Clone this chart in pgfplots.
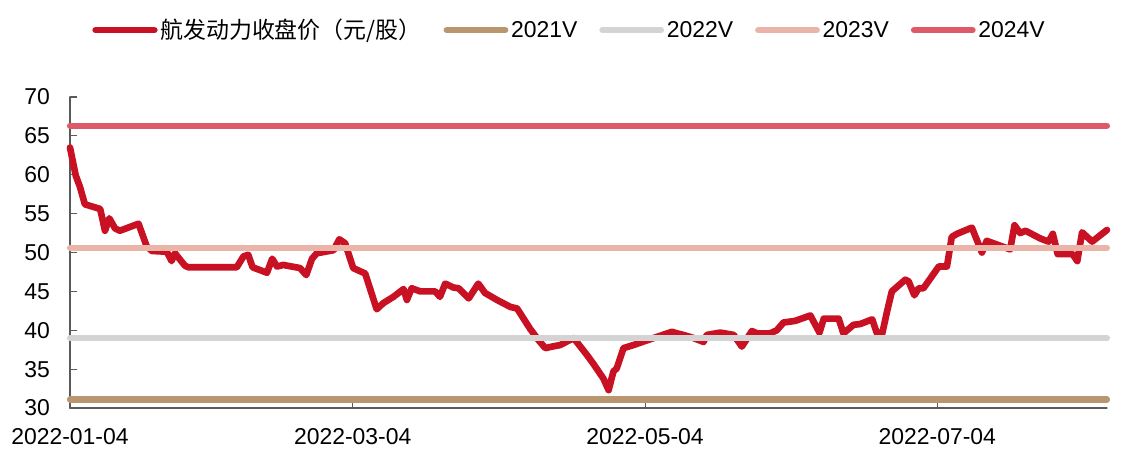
\documentclass[border=0pt]{standalone}
\usepackage{pgfplots}
\pgfplotsset{compat=1.18}
\usepackage{fontspec}
\setmainfont{Liberation Sans}
\newfontfamily\cjk{Noto Sans CJK SC}
\definecolor{mainred}{RGB}{200,18,36}
\definecolor{vtan}{RGB}{185,150,110}
\definecolor{vgray}{RGB}{212,212,212}
\definecolor{vpink}{RGB}{235,180,168}
\definecolor{vrose}{RGB}{221,90,105}
\definecolor{axgray}{RGB}{90,90,90}
\pgfplotstableread{
d y
0 63.5
1.2 59.9
2.1 58.4
3.1 56.2
6.3 55.6
7.3 52.8
8.2 54.4
9.4 53.1
10.4 52.8
14.3 53.7
16 50.8
17.1 50.2
20.2 50.1
21.2 48.9
21.9 49.9
24 48.3
24.7 48.1
34.8 48.1
36.2 49.5
37.2 49.7
38.1 48.1
41.1 47.4
42.2 49.2
43.2 48.2
44.5 48.4
48 48.0
49.3 47.1
50.5 49.2
51.5 49.9
55 50.3
56.2 51.7
57.4 51.2
59.1 48.0
61.6 47.3
64 42.7
65.4 43.5
67.5 44.3
69.6 45.3
70.3 43.9
71.3 45.4
73.1 45.0
76.2 45.0
77.2 44.3
78.3 46.0
80 45.5
81.1 45.4
83.2 44.1
85.2 46.0
86.6 44.8
89.1 43.9
91.9 43.0
93.3 42.8
96 40.2
97.8 38.7
99.2 37.7
100.6 37.9
102.3 38.1
105.1 39.0
106.5 37.9
107.9 36.8
109.2 35.7
111.3 33.8
112.4 32.3
113.4 34.7
114.1 35.1
115.5 37.7
117.6 38.1
121.8 39.0
125.6 39.8
126.7 39.6
128 39.4
130.1 39.0
132.2 38.5
132.9 39.4
135.7 39.7
138.5 39.4
140.2 37.9
142.3 39.9
143.4 39.6
146.1 39.6
147.5 40.0
148.9 41.0
151.3 41.2
154.5 41.9
156.4 39.7
157.3 41.5
160.4 41.5
161.4 39.6
163.5 40.7
164.9 40.8
167.4 41.4
168.4 39.6
169.5 39.6
170.5 42.4
171.5 45.0
174.3 46.5
175 46.3
176.2 44.5
177.1 45.4
178.1 45.4
181.3 48.2
183 48.2
184 52.0
185.1 52.4
188.2 53.2
190.3 50.0
191.3 51.5
196.2 50.4
197.1 53.5
198.3 52.5
199.4 52.8
202.5 51.8
204.2 51.4
205.1 52.4
206.1 49.8
209.2 49.8
210.2 48.9
211.2 52.6
213.3 51.4
216.4 52.9
}\pricedata
\begin{document}
\begin{tikzpicture}[x=1pt,y=1pt]
\useasboundingbox (-52.5,-40.5) rectangle (789,306);
\begin{axis}[
  at={(0,0)}, anchor=south west,
  scale only axis,
  width=777.75pt, height=233.25pt,
  xmin=0, xmax=216.4,
  ymin=30, ymax=70,
  ytick={30,35,40,45,50,55,60,65,70},
  xtick={0,59,120,181},
  xticklabels={2022-01-04,2022-03-04,2022-05-04,2022-07-04},
  axis x line*=bottom, axis y line*=left,
  axis line style={draw=axgray, line width=0.8pt, -},
  tick style={draw=axgray, line width=0.8pt},
  tick align=inside,
  major tick length=5pt,
  clip=false,
  font=\fontsize{17.2}{20}\selectfont,
  tick label style={font=\fontsize{17.2}{20}\selectfont},
  /pgf/number format/assume math mode=true,
  yticklabel style={xshift=-11.5pt},
  xticklabel style={yshift=-12pt},
  legend columns=5,
  legend style={draw=none, fill=none, at={(0.482,1.215)}, anchor=center,
    font=\fontsize{17.2}{20}\selectfont,
    /tikz/every odd column/.append style={column sep=0pt},
    /tikz/every even column/.append style={column sep=14.5pt}},
  legend image code/.code={\draw[#1, line cap=round] (0pt,0pt) -- (44pt,0pt);},
  line cap=round, line join=round,
]
\addplot[mainred, line width=5pt] table[x=d, y=y] {\pricedata};
\addlegendentry{{\cjk 航发动力收盘价（元/股）}}
\addplot[vtan, line width=4.6pt] coordinates {(0,31.1) (216.4,31.1)};
\addlegendentry{2021V}
\addplot[vgray, line width=4.6pt] coordinates {(0,39.0) (216.4,39.0)};
\addlegendentry{2022V}
\addplot[vpink, line width=4.6pt] coordinates {(0,50.6) (216.4,50.6)};
\addlegendentry{2023V}
\addplot[vrose, line width=4.6pt] coordinates {(0,66.3) (216.4,66.3)};
\addlegendentry{2024V}
\end{axis}
\end{tikzpicture}
\end{document}
